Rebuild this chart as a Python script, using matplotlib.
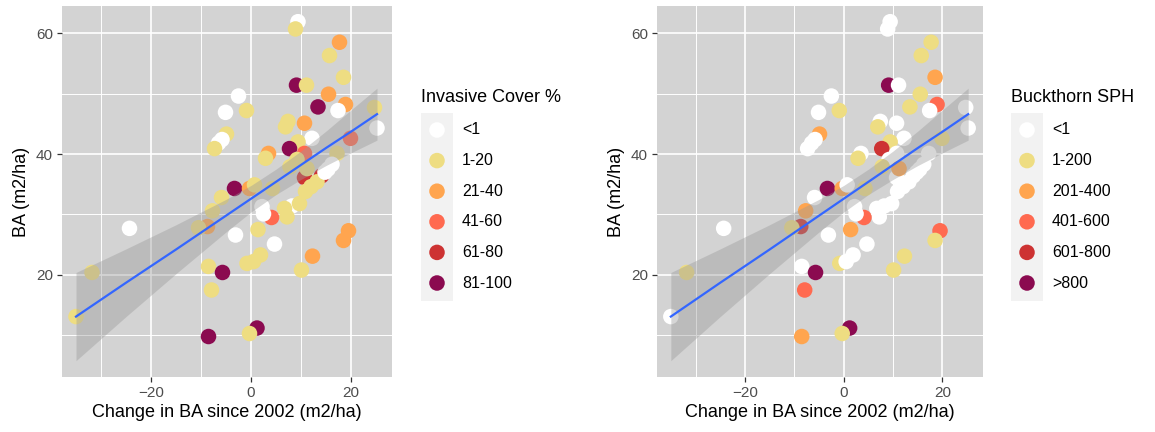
import numpy as np
import matplotlib
matplotlib.use("Agg")
import matplotlib.pyplot as plt
from matplotlib.patches import Rectangle

plt.rcParams['font.family'] = ['Liberation Sans', 'DejaVu Sans']

# change in basal area since 2002 (m2/ha) and current basal area (m2/ha)
ba_change = [9.4, 8.9, 17.7, 15.7, 18.5, 9.1, 11.1, 15.5, 13.4, 18.9,
             17.4, 24.7, 25.2, -2.5, -5.1, -0.9, 7.4, 6.9, 10.7, -4.9,
             -5.8, -6.5, -7.3, 12.2, 9.4, 7.7, 3.5, 2.9, 10.7, 17.2,
             19.9, 9.2, 15.4, 10.7, 14.1, 13.2, 10.9, -3.3, -0.3, 0.7,
             -5.9, 4.3, 8.2, 9.7, 6.7, 7.2, 2.2, 4.1, 2.5, -8.7,
             -7.7, -10.5, -24.3, -31.8, -35.0, -3.1, 1.4, 4.7, 19.5, 18.5,
             12.3, 10.1, -0.8, 0.5, 1.9, -8.5, -5.7, -7.9, -8.5, 1.2,
             -0.3, 11.2, 7.8, 14.8, 12.0, 16.2]
ba = [61.9, 60.7, 58.5, 56.3, 52.7, 51.4, 51.4, 49.9, 47.8, 48.2,
      47.2, 47.7, 44.3, 49.6, 46.9, 47.2, 45.4, 44.5, 45.1, 43.3,
      42.4, 41.8, 40.9, 42.6, 42.0, 40.9, 40.1, 39.3, 40.1, 40.1,
      42.6, 39.1, 37.5, 36.1, 36.4, 35.4, 33.8, 34.3, 34.3, 34.9,
      32.8, 34.3, 31.4, 31.8, 31.0, 29.6, 31.3, 29.5, 30.1, 28.0,
      30.6, 27.8, 27.7, 20.4, 13.1, 26.6, 27.5, 25.1, 27.3, 25.7,
      23.1, 20.8, 21.9, 22.2, 23.3, 21.4, 20.4, 17.5, 9.8, 11.2,
      10.3, 37.6, 37.9, 37.0, 34.6, 38.3]

# class index per site for each grouping
invasive_class = [0, 1, 2, 1, 1, 5, 1, 2, 5, 2,
                  0, 1, 0, 0, 0, 1, 1, 1, 2, 1,
                  0, 0, 1, 0, 1, 5, 2, 1, 3, 1,
                  3, 1, 0, 4, 4, 1, 1, 5, 2, 1,
                  1, 1, 0, 1, 1, 1, 0, 3, 0, 2,
                  1, 1, 0, 1, 1, 0, 1, 0, 2, 2,
                  2, 1, 1, 1, 1, 1, 5, 1, 5, 5,
                  1, 1, 1, 0, 1, 0]
buckthorn_class = [0, 0, 1, 1, 2, 5, 0, 1, 1, 3,
                   0, 0, 0, 0, 0, 1, 0, 1, 0, 2,
                   0, 0, 0, 0, 1, 4, 0, 1, 0, 0,
                   1, 0, 0, 0, 0, 0, 0, 5, 2, 0,
                   0, 1, 0, 0, 0, 0, 0, 3, 0, 4,
                   2, 1, 0, 1, 0, 0, 2, 0, 3, 1,
                   1, 1, 1, 0, 0, 0, 5, 3, 2, 5,
                   1, 2, 1, 0, 0, 0]

# linear smoother (lm) and its 95% band, sampled along the x range
smooth_x = [-35.0, -25.0, -15.0, -5.0, 0.0, 5.0, 10.0, 15.0, 20.0, 25.2]
smooth_y = [13.1, 18.7, 24.2, 29.8, 32.6, 35.4, 38.2, 41.0, 43.7, 46.6]
smooth_lo = [5.8, 13.1, 20.2, 27.1, 30.4, 33.3, 35.8, 38.1, 40.2, 42.3]
smooth_hi = [20.4, 24.3, 28.3, 32.5, 34.8, 37.5, 40.5, 43.8, 47.3, 50.9]

invasive_labels = ['<1', '1-20', '21-40', '41-60', '61-80', '81-100']
buckthorn_labels = ['<1', '1-200', '201-400', '401-600', '601-800', '>800']
class_colors = ['#FFFFFF', '#EEDD82', '#FFA54F', '#FF6A50', '#CD3333', '#8B0A50']

W, H = 1155, 432
fig = plt.figure(figsize=(W / 100, H / 100), dpi=100)
ax1 = fig.add_axes([62 / W, 1 - 377 / H, 330 / W, 371 / H])
ax2 = fig.add_axes([657 / W, 1 - 377 / H, 326 / W, 371 / H])


def draw_panel(ax, classes):
    cols = [class_colors[c] for c in classes]
    ax.set_facecolor('#D3D3D3')
    ax.scatter(ba_change, ba, c=cols, s=125, linewidths=0, zorder=2)
    ax.fill_between(smooth_x, smooth_lo, smooth_hi, color='#999999', alpha=0.4,
                    linewidth=0, zorder=3)
    ax.plot(smooth_x, smooth_y, color='#3366FF', lw=1.6, zorder=4)
    ax.set_xlim(-37.8, 28.2)
    ax.set_ylim(3.1, 64.5)
    ax.set_xticks([-20, 0, 20])
    ax.set_yticks([20, 40, 60])
    ax.set_xticks([-30, -10, 10], minor=True)
    ax.set_yticks([10, 30, 50], minor=True)
    ax.grid(which='major', color='white', lw=1.2, zorder=0)
    ax.grid(which='minor', color='white', lw=0.7, zorder=0)
    ax.set_axisbelow(True)
    for sp in ax.spines.values():
        sp.set_visible(False)
    ax.tick_params(which='major', length=3.5, width=0.9, color='#333333',
                   labelcolor='#4D4D4D', labelsize=11, pad=3)
    ax.tick_params(which='minor', length=0)
    ax.set_xlabel('Change in BA since 2002 (m2/ha)', fontsize=13, labelpad=3)
    ax.set_ylabel('BA (m2/ha)', fontsize=13, labelpad=4)


draw_panel(ax1, invasive_class)
draw_panel(ax2, buckthorn_class)

# legends, laid out in figure pixels
lax = fig.add_axes([0, 0, 1, 1])
lax.set_xlim(0, W)
lax.set_ylim(H, 0)
lax.axis('off')


def draw_legend(x0, title, labels):
    lax.text(x0, 97, title, fontsize=13, va='center', ha='left')
    lax.add_patch(Rectangle((x0, 113), 32, 188, color='#F2F2F2', lw=0))
    rows = 130 + 30.6 * np.arange(len(labels))
    lax.scatter(np.full(len(labels), x0 + 16), rows, c=class_colors, s=125,
                linewidths=0, zorder=3)
    for r, lab in zip(rows, labels):
        lax.text(x0 + 41, r, lab, fontsize=11.5, va='center', ha='left')


draw_legend(421, 'Invasive Cover %', invasive_labels)
draw_legend(1011, 'Buckthorn SPH', buckthorn_labels)

fig.savefig('out.png', dpi=100)
